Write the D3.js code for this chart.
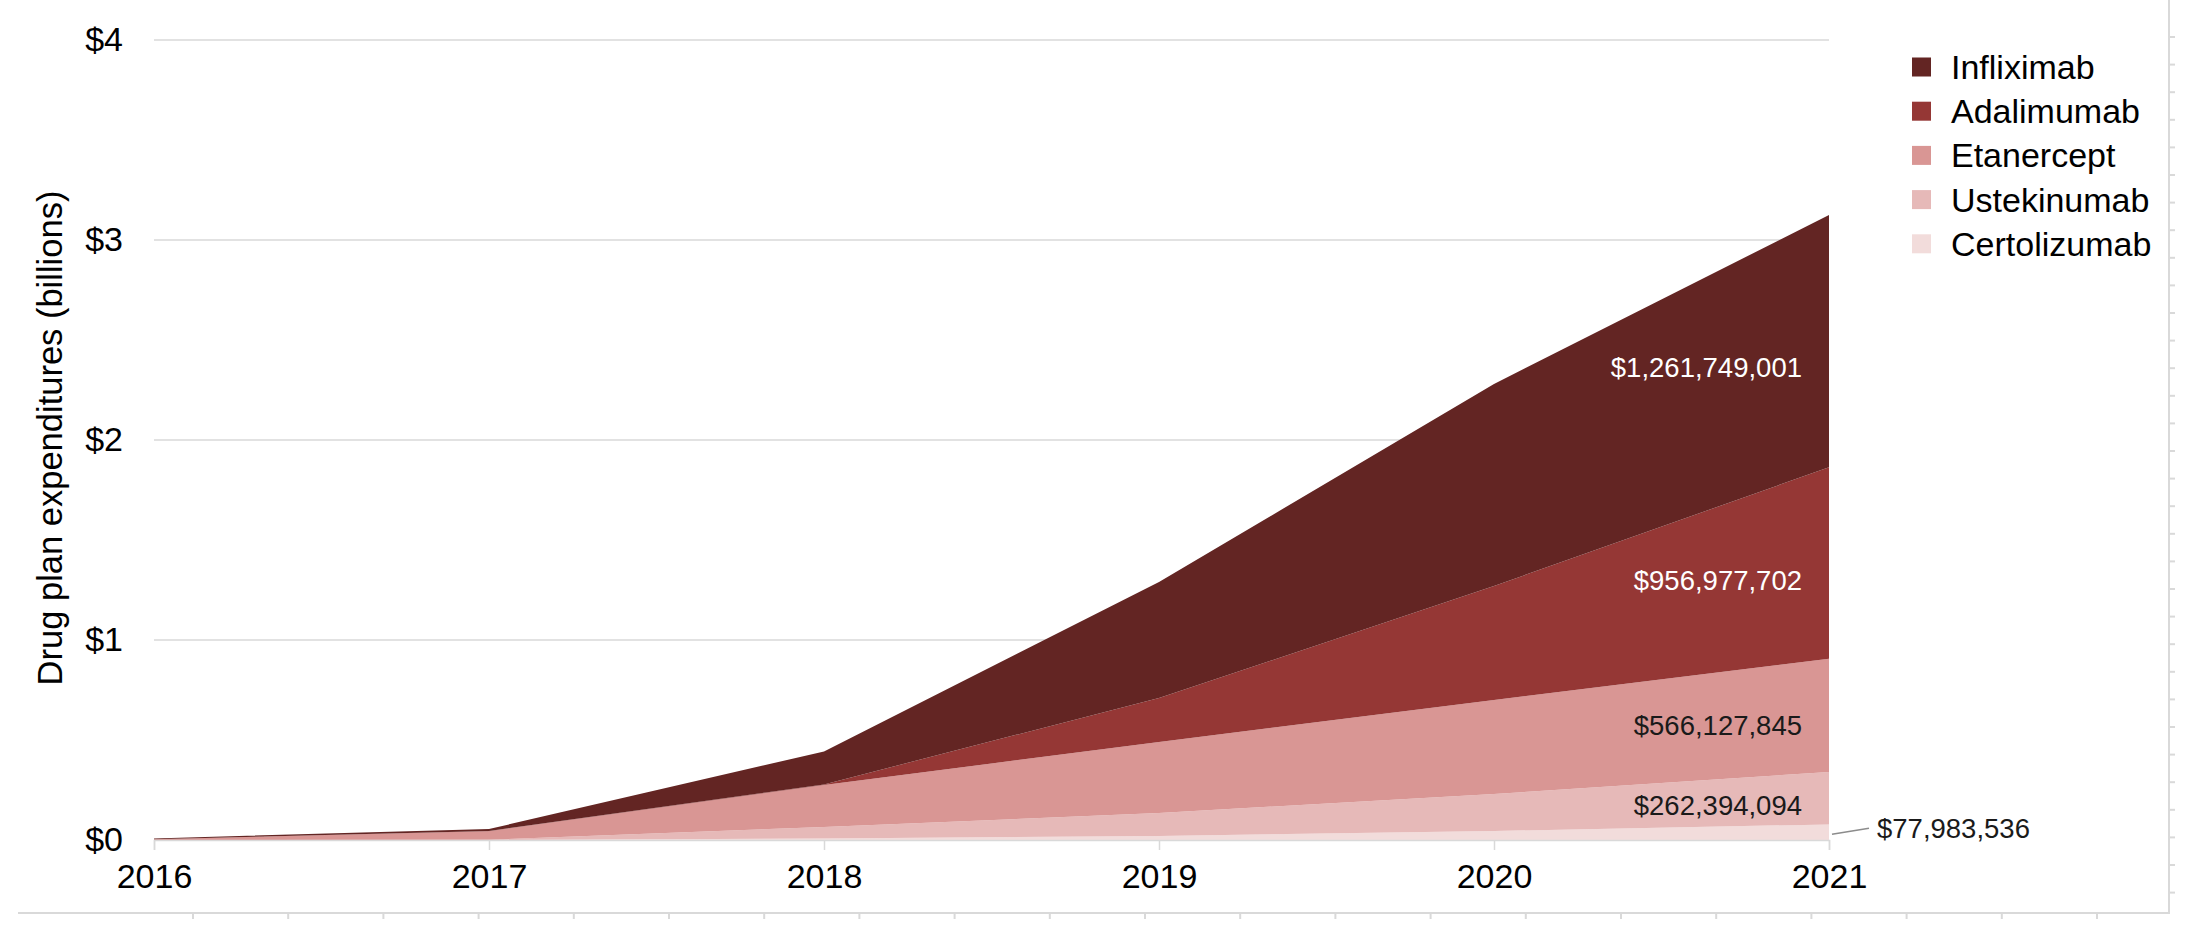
<!DOCTYPE html>
<html>
<head>
<meta charset="utf-8">
<script src="https://cdn.jsdelivr.net/npm/d3@7"></script>
<style>
  body { margin: 0; background: #fff; }
  text { font-family: "Liberation Sans", Arial, sans-serif; }
</style>
</head>
<body>
<div id="chart"></div>
<script>
// data, in billions of dollars
var years = [2016, 2017, 2018, 2019, 2020, 2021];
var drugs = ["Certolizumab", "Ustekinumab", "Etanercept", "Adalimumab", "Infliximab"];
var certolizumab = [0, 0, 0.008, 0.02, 0.045, 0.077983536];
var ustekinumab = [0, 0.001, 0.057, 0.115, 0.185, 0.262394094];
var etanercept = [0.004, 0.043, 0.21, 0.355, 0.47, 0.566127845];
var adalimumab = [0, 0.001, 0.003, 0.22, 0.57, 0.956977702];
var infliximab = [0.004, 0.01, 0.165, 0.58, 1.01, 1.261749001];
var yTicks = [0, 1, 2, 3, 4];
var legendOrder = ["Infliximab", "Adalimumab", "Etanercept", "Ustekinumab", "Certolizumab"];

var colors = {
  "Infliximab": "#632523",
  "Adalimumab": "#953735",
  "Etanercept": "#d99694",
  "Ustekinumab": "#e6b9b8",
  "Certolizumab": "#f2dcdb"
};

var series = {
  "Certolizumab": certolizumab,
  "Ustekinumab": ustekinumab,
  "Etanercept": etanercept,
  "Adalimumab": adalimumab,
  "Infliximab": infliximab
};

var rows = years.map(function(yr, i) {
  var r = { year: yr };
  drugs.forEach(function(d) { r[d] = series[d][i]; });
  return r;
});

var width = 2190;
var height = 933;

var svg = d3.select("#chart")
  .append("svg")
  .attr("width", width)
  .attr("height", height);

var x = d3.scaleLinear().domain([2016, 2021]).range([154, 1829]);
var y = d3.scaleLinear().domain([0, 4]).range([840, 40]);

// gridlines
svg.append("g")
  .selectAll("line")
  .data(yTicks.slice(1))
  .enter().append("line")
  .attr("x1", x(2016))
  .attr("x2", x(2021))
  .attr("y1", function(d) { return y(d); })
  .attr("y2", function(d) { return y(d); })
  .attr("stroke", "#d9d9d9")
  .attr("stroke-width", 1.5);

var stack = d3.stack().keys(drugs);
var layers = stack(rows);

var area = d3.area()
  .x(function(d) { return x(d.data.year); })
  .y0(function(d) { return y(d[0]); })
  .y1(function(d) { return y(d[1]); });

svg.append("g")
  .selectAll("path")
  .data(layers)
  .enter().append("path")
  .attr("d", area)
  .attr("fill", function(d) { return colors[d.key]; });

// x axis
var xAxis = d3.axisBottom(x)
  .tickValues(years)
  .tickFormat(d3.format("d"))
  .tickSize(10)
  .tickPadding(14);

var gx = svg.append("g")
  .attr("transform", "translate(0," + y(0) + ")")
  .call(xAxis);
gx.select(".domain").attr("stroke", "#d9d9d9").attr("stroke-width", 1.5);
gx.selectAll(".tick line").attr("stroke", "#d9d9d9").attr("stroke-width", 1.5);
gx.selectAll("text")
  .attr("fill", "#000")
  .style("font-size", "34px")
  .style("font-family", "'Liberation Sans', Arial, sans-serif");

// y axis
var yAxis = d3.axisLeft(y)
  .tickValues(yTicks)
  .tickFormat(function(d) { return "$" + d; })
  .tickSize(0)
  .tickPadding(31);

var gy = svg.append("g")
  .attr("transform", "translate(" + x(2016) + ",0)")
  .call(yAxis);
gy.select(".domain").remove();
gy.selectAll("text")
  .attr("fill", "#000")
  .style("font-size", "34px")
  .style("font-family", "'Liberation Sans', Arial, sans-serif");

svg.append("text")
  .attr("transform", "translate(62,438) rotate(-90)")
  .attr("text-anchor", "middle")
  .style("font-size", "34.5px")
  .attr("fill", "#000")
  .text("Drug plan expenditures (billions)");

// value labels for 2021
var fmt = d3.format("$,.0f");
var last = years.length - 1;
var t = 0.85;
var labelColor = {
  "Infliximab": "#fff",
  "Adalimumab": "#fff",
  "Etanercept": "#1a1a1a",
  "Ustekinumab": "#1a1a1a"
};

layers.forEach(function(layer) {
  var val = series[layer.key][last];
  if (layer.key == "Certolizumab") {
    var p = layer[last];
    var my = y((p[0] + p[1]) / 2);
    svg.append("line")
      .attr("x1", x(2021) + 3)
      .attr("y1", my + 2)
      .attr("x2", x(2021) + 40)
      .attr("y2", my - 4)
      .attr("stroke", "#8c8c8c")
      .attr("stroke-width", 1.5);
    svg.append("text")
      .attr("x", x(2021) + 48)
      .attr("y", my - 4)
      .attr("dominant-baseline", "central")
      .attr("fill", "#1a1a1a")
      .style("font-size", "27.5px")
      .text(fmt(val * 1e9));
    return;
  }
  var a = layer[last - 1], b = layer[last];
  var lo = a[0] + (b[0] - a[0]) * t;
  var hi = a[1] + (b[1] - a[1]) * t;
  svg.append("text")
    .attr("x", x(2021) - 27)
    .attr("y", y((lo + hi) / 2) + 5)
    .attr("text-anchor", "end")
    .attr("dominant-baseline", "central")
    .attr("fill", labelColor[layer.key])
    .style("font-size", "27.5px")
    .text(fmt(val * 1e9));
});

// legend
var legend = svg.append("g")
  .selectAll("g")
  .data(legendOrder)
  .enter().append("g")
  .attr("transform", function(d, i) { return "translate(1912," + (67 + i * 44.2) + ")"; });

legend.append("rect")
  .attr("x", 0)
  .attr("y", -9.5)
  .attr("width", 19)
  .attr("height", 19)
  .attr("fill", function(d) { return colors[d]; });

legend.append("text")
  .attr("x", 39)
  .attr("y", 0)
  .attr("dominant-baseline", "central")
  .attr("fill", "#000")
  .style("font-size", "34px")
  .text(function(d) { return d; });

// page frame with ruler marks
var frame = svg.append("g")
  .attr("stroke", "#d9d9d9")
  .attr("stroke-width", 2);

frame.append("line")
  .attr("x1", 18).attr("y1", 913)
  .attr("x2", 2170).attr("y2", 913);
frame.append("line")
  .attr("x1", 2169).attr("y1", 0)
  .attr("x2", 2169).attr("y2", 914);

d3.range(193, 2169, 95.2).forEach(function(tx) {
  frame.append("line")
    .attr("x1", tx).attr("y1", 913)
    .attr("x2", tx).attr("y2", 919);
});
d3.range(37, 913, 27.6).forEach(function(ty) {
  frame.append("line")
    .attr("x1", 2169).attr("y1", ty)
    .attr("x2", 2175).attr("y2", ty);
});
</script>
</body>
</html>
